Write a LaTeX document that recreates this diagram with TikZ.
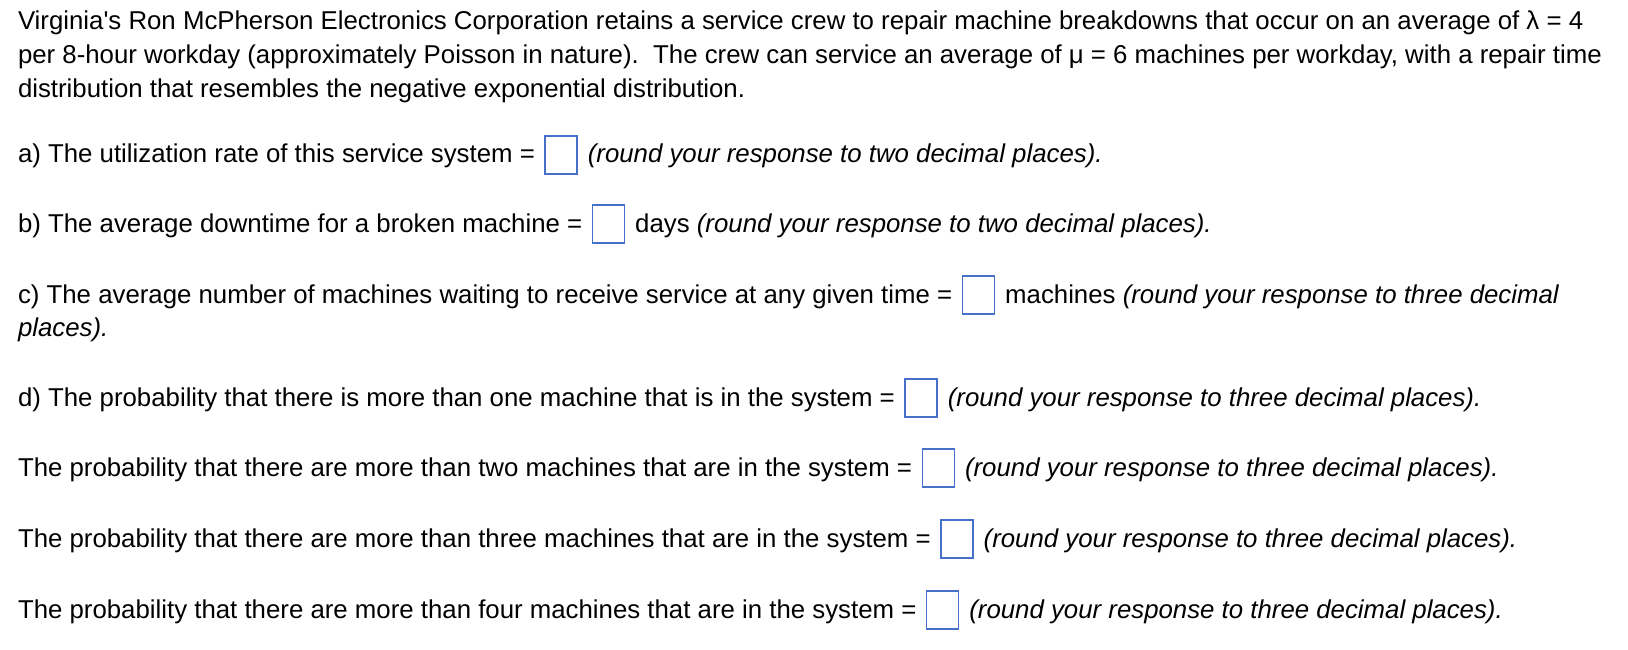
\documentclass[tikz,border=0pt]{standalone}
\usepackage{fontspec}
\setmainfont{Liberation Sans}[Ligatures=TeXOff]
\usetikzlibrary{calc}
\definecolor{boxblue}{HTML}{4770C8}
\tikzset{
  txt/.style={inner sep=0pt, outer sep=0pt, anchor=base west, font=\fontsize{25.8}{34}\selectfont},
  ansbox/.style={draw=boxblue, line width=1.4pt, minimum width=32pt, minimum height=38pt, inner sep=0pt, anchor=west},
}
\newcommand{\gapA}{9.5}
\newcommand{\gapB}{10}
\begin{document}
\begin{tikzpicture}[x=1pt,y=-1pt]
\useasboundingbox (0,0) rectangle (1628,650);
\fill[white] (0,0) rectangle (1628,650);
% intro
\node[txt] (l1) at (18,29.5) {Virginia's Ron McPherson Electronics Corporation retains a service crew to repair machine breakdowns that occur on an average of λ = 4};
\node[txt] (l2) at (18,63.5) {per 8-hour workday (approximately Poisson in nature).\ \ The crew can service an average of μ = 6 machines per workday, with a repair time};
\node[txt] (l3) at (18,97.5) {distribution that resembles the negative exponential distribution.};
% a
\node[txt] (a1) at (18,163) {a) The utilization rate of this service system =};
\node[ansbox] (abox) at ($(a1.base east)+(\gapA,-8)$) {};
\node[txt] (a2) at ($(abox.east)+(\gapB,8)$) {\itshape (round your response to two decimal places).};
% b
\node[txt] (b1) at (18,232) {b) The average downtime for a broken machine =};
\node[ansbox] (bbox) at ($(b1.base east)+(\gapA,-8)$) {};
\node[txt] (b2) at ($(bbox.east)+(\gapB,8)$) {days \itshape (round your response to two decimal places).};
% c
\node[txt] (c1) at (18,303) {c) The average number of machines waiting to receive service at any given time =};
\node[ansbox] (cbox) at ($(c1.base east)+(\gapA,-8)$) {};
\node[txt] (c2) at ($(cbox.east)+(\gapB,8)$) {machines \itshape (round your response to three decimal};
\node[txt] (c3) at (18,336) {\itshape places).};
% d
\node[txt] (d1) at (18,406) {d) The probability that there is more than one machine that is in the system =};
\node[ansbox] (dbox) at ($(d1.base east)+(\gapA,-8)$) {};
\node[txt] (d2) at ($(dbox.east)+(\gapB,8)$) {\itshape (round your response to three decimal places).};
% e
\node[txt] (e1) at (18,476) {The probability that there are more than two machines that are in the system =};
\node[ansbox] (ebox) at ($(e1.base east)+(\gapA,-8)$) {};
\node[txt] (e2) at ($(ebox.east)+(\gapB,8)$) {\itshape (round your response to three decimal places).};
% f
\node[txt] (f1) at (18,547) {The probability that there are more than three machines that are in the system =};
\node[ansbox] (fbox) at ($(f1.base east)+(\gapA,-8)$) {};
\node[txt] (f2) at ($(fbox.east)+(\gapB,8)$) {\itshape (round your response to three decimal places).};
% g
\node[txt] (g1) at (18,618) {The probability that there are more than four machines that are in the system =};
\node[ansbox] (gbox) at ($(g1.base east)+(\gapA,-8)$) {};
\node[txt] (g2) at ($(gbox.east)+(\gapB,8)$) {\itshape (round your response to three decimal places).};
\end{tikzpicture}
\end{document}
